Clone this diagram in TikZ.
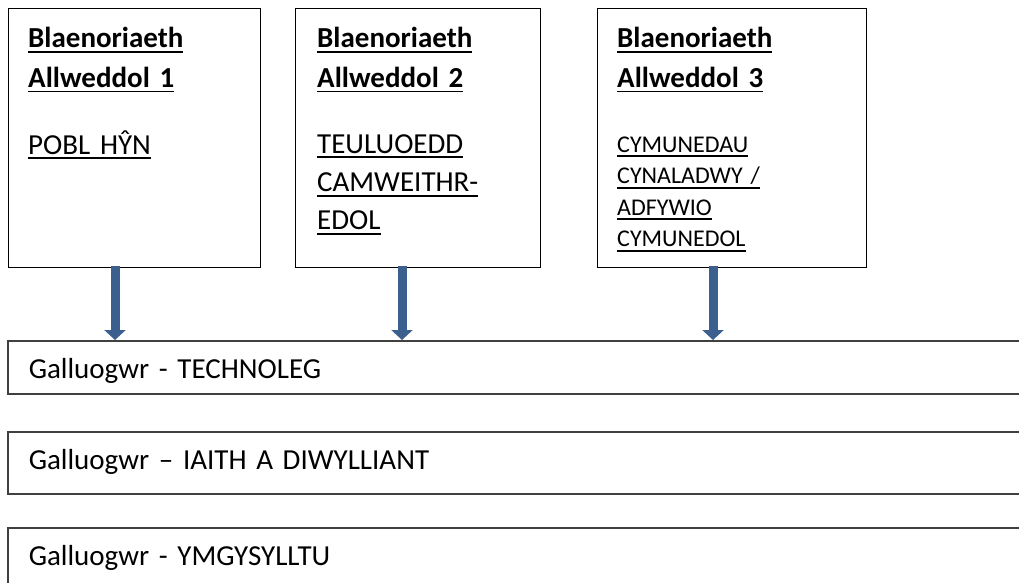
\documentclass[tikz,border=0pt]{standalone}
\usepackage{fontspec}
\setmainfont{Carlito}
\usetikzlibrary{arrows.meta,positioning}
\definecolor{arrowblue}{RGB}{60,96,142}
\definecolor{bargray}{RGB}{64,64,64}
\newcommand{\uln}[1]{\leavevmode\begingroup\setbox0=\hbox{#1}\rlap{\rule[-5pt]{\wd0}{1.8pt}}\box0\endgroup}
\newcommand{\tightsp}{\spaceskip=0.13em\relax}
\tikzset{
  keybox/.style={draw=black,line width=1.2pt,anchor=north west,inner sep=0pt},
  headtext/.style={anchor=base west,inner sep=0pt,text width=230pt,align=left,
    font=\fontsize{29}{39.5}\selectfont\bfseries\tightsp},
  bodytext/.style={anchor=base west,inner sep=0pt,text width=230pt,align=left,
    font=\fontsize{29}{38.5}\selectfont\tightsp},
  smalltext/.style={anchor=base west,inner sep=0pt,text width=240pt,align=left,
    font=\fontsize{24}{31.5}\selectfont\tightsp},
  barbox/.style={draw=bargray,line width=1.5pt,anchor=north west,inner ysep=0pt,
    inner xsep=21pt,text width=998pt,align=left,text height=38pt,
    font=\fontsize{29}{34}\selectfont\tightsp},
  flowarrow/.style={arrowblue,line width=9pt,-{Triangle[width=21pt,length=10pt]}}
}
\begin{document}
\begin{tikzpicture}[x=1pt,y=-1pt]
    \useasboundingbox (0,0) rectangle (1019,583);
    \clip (0,0) rectangle (1019,583);
    % key priorities
    \node[keybox,minimum width=252pt,minimum height=259pt] (kp1) at (8,8) {};
    \node[keybox,minimum width=245pt,minimum height=259pt] (kp2) at (295,8) {};
    \node[keybox,minimum width=269pt,minimum height=259pt] (kp3) at (597,8) {};
    \node[headtext] (kp1h) at (28,48) {\uln{Blaenoriaeth}\\\uln{Allweddol 1}};
    \node[headtext] (kp2h) at (317,48) {\uln{Blaenoriaeth}\\\uln{Allweddol 2}};
    \node[headtext] (kp3h) at (617,48) {\uln{Blaenoriaeth}\\\uln{Allweddol 3}};
    \node[bodytext] (kp1b) at (28,154) {\uln{POBL HŶN}};
    \node[bodytext] (kp2b) at (317,153) {\uln{TEULUOEDD}\\\uln{CAMWEITHR-}\\\uln{EDOL}};
    \node[smalltext] (kp3b) at (617,152) {\uln{CYMUNEDAU}\\\uln{CYNALADWY /}\\\uln{ADFYWIO}\\\uln{CYMUNEDOL}};
    % enablers
    \node[barbox,text depth=15pt] (bar1) at (7,340) {Galluogwr - TECHNOLEG};
    \node[barbox,text depth=24pt] (bar2) at (7,431) {Galluogwr – IAITH A DIWYLLIANT};
    \node[barbox,text depth=40pt] (bar3) at (7,527) {Galluogwr - YMGYSYLLTU};
    % arrows
    \coordinate (a1) at (115,266);
    \coordinate (a2) at (402,266);
    \coordinate (a3) at (713,266);
    \draw[flowarrow] (a1) -- (a1 |- bar1.north);
    \draw[flowarrow] (a2) -- (a2 |- bar1.north);
    \draw[flowarrow] (a3) -- (a3 |- bar1.north);
\end{tikzpicture}
\end{document}
